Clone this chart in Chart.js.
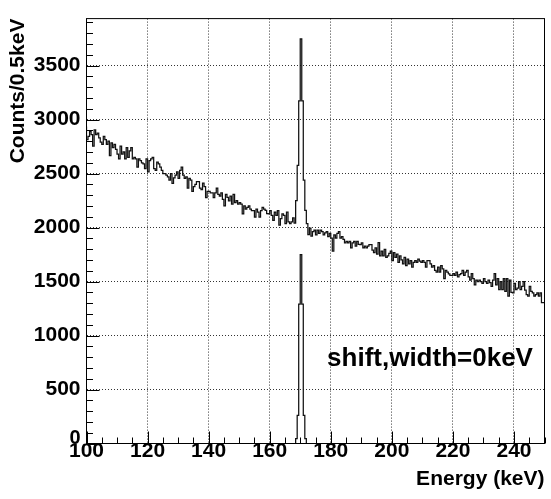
<!DOCTYPE html>
<html>
<head>
<meta charset="utf-8">
<script src="https://cdn.jsdelivr.net/npm/chart.js@4.4.1/dist/chart.umd.min.js"></script>
<style>
  html, body { margin: 0; padding: 0; background: #fff; }
  #wrap { width: 551px; height: 499px; }
</style>
</head>
<body>
<div id="wrap"><canvas id="plot" width="551" height="499"></canvas></div>
<script>
// histogram binning: 100..250 keV, 0.5 keV per bin
const binLow = 100;
const binWidth = 0.5;

// measured spectrum (background + line), counts per bin, 20 bins per 10 keV
const b100 = [2935, 2815, 2845, 2890, 2860, 2755, 2905, 2860, 2875, 2830, 2790, 2770, 2845, 2815, 2770, 2800, 2665, 2785, 2740, 2770];
const b110 = [2725, 2680, 2635, 2755, 2680, 2700, 2635, 2740, 2650, 2710, 2740, 2635, 2650, 2635, 2560, 2635, 2620, 2600, 2590, 2545];
const b120 = [2635, 2515, 2620, 2635, 2650, 2545, 2530, 2605, 2590, 2560, 2530, 2500, 2500, 2485, 2470, 2440, 2500, 2410, 2460, 2485];
const b130 = [2515, 2455, 2530, 2560, 2485, 2455, 2470, 2365, 2455, 2440, 2335, 2380, 2400, 2425, 2426, 2366, 2351, 2411, 2380, 2276];
const b140 = [2336, 2336, 2321, 2321, 2276, 2321, 2366, 2306, 2291, 2321, 2261, 2201, 2306, 2280, 2246, 2291, 2216, 2306, 2231, 2250];
const b150 = [2216, 2231, 2216, 2127, 2201, 2171, 2186, 2201, 2171, 2157, 2157, 2097, 2171, 2142, 2097, 2157, 2186, 2171, 2160, 2130];
const b160 = [2127, 2157, 2112, 2067, 2142, 2112, 2157, 2022, 2082, 2127, 2112, 2037, 2142, 2052, 2037, 2052, 2090, 2040, 2250, 2575];
const b170 = [3173, 3748, 3173, 2440, 2159, 2036, 1935, 1995, 1920, 1962, 1977, 1932, 1977, 1947, 1977, 1962, 1932, 1950, 1962, 1917];
const b180 = [1947, 1902, 1782, 1932, 1902, 1947, 1962, 1902, 1917, 1890, 1857, 1872, 1857, 1872, 1812, 1857, 1872, 1827, 1872, 1845];
const b190 = [1842, 1857, 1812, 1827, 1812, 1827, 1842, 1842, 1790, 1768, 1812, 1753, 1860, 1738, 1782, 1738, 1797, 1723, 1738, 1760];
const b200 = [1782, 1693, 1768, 1723, 1753, 1678, 1738, 1700, 1663, 1723, 1648, 1708, 1663, 1693, 1633, 1678, 1693, 1678, 1708, 1690];
const b210 = [1678, 1693, 1678, 1633, 1693, 1693, 1663, 1633, 1648, 1603, 1588, 1633, 1588, 1648, 1618, 1528, 1603, 1588, 1570, 1558];
const b220 = [1558, 1573, 1558, 1588, 1543, 1565, 1573, 1603, 1558, 1588, 1603, 1543, 1513, 1573, 1528, 1468, 1513, 1498, 1513, 1500];
const b230 = [1483, 1528, 1498, 1483, 1513, 1490, 1454, 1513, 1573, 1468, 1528, 1424, 1498, 1424, 1528, 1409, 1528, 1364, 1513, 1400];
const b240 = [1394, 1483, 1424, 1439, 1498, 1424, 1454, 1498, 1420, 1379, 1364, 1454, 1409, 1394, 1364, 1379, 1394, 1364, 1394, 1304];

// line only (no shift, no extra width): non-zero bins starting at 169.0 keV
const lineStart = 169.0;
const lineCounts = [45, 260, 1290, 1750, 1290, 260, 45];

// axis ticks
const xTicks = [100, 120, 140, 160, 180, 200, 220, 240];
const yTicks = [0, 500, 1000, 1500, 2000, 2500, 3000, 3500];
const xMax = 250;
const yMax = 3935;

const spectrum = [].concat(b100, b110, b120, b130, b140, b150, b160, b170,
                           b180, b190, b200, b210, b220, b230, b240);
const nBins = spectrum.length;
const lineOnly = new Array(nBins).fill(0);
const firstLineBin = Math.round((lineStart - binLow) / binWidth);
lineCounts.forEach((v, i) => { lineOnly[firstLineBin + i] = v; });

// step outline: one point per bin low edge, plus the closing edge
function steps(vals) {
  const pts = vals.map((v, i) => ({x: binLow + i * binWidth, y: v}));
  pts.push({x: binLow + vals.length * binWidth, y: vals[vals.length - 1]});
  return pts;
}

const FONT = "'Liberation Sans', Arial, Helvetica, sans-serif";

const rootFrame = {
  id: 'rootFrame',
  afterDatasetsDraw(chart) {
    const {ctx, chartArea: a, scales: {x, y}} = chart;
    ctx.save();
    ctx.strokeStyle = '#000';
    ctx.lineWidth = 1;
    ctx.beginPath();
    // x ticks inside the frame: major every 20, minor every 5
    for (let v = binLow; v <= xMax; v += 5) {
      const px = Math.round(x.getPixelForValue(v)) + 0.5;
      const len = (v % 20 === 0) ? 12 : 6;
      ctx.moveTo(px, a.bottom);
      ctx.lineTo(px, a.bottom - len);
    }
    // y ticks: major every 500, minor every 100
    for (let v = 0; v <= yMax; v += 100) {
      const py = Math.round(y.getPixelForValue(v)) + 0.5;
      const len = (v % 500 === 0) ? 13 : 6.5;
      ctx.moveTo(a.left, py);
      ctx.lineTo(a.left + len, py);
    }
    ctx.stroke();
    ctx.strokeRect(a.left, a.top, a.right - a.left, a.bottom - a.top);

    // zero label on y sits just above the x labels
    ctx.fillStyle = '#000';
    ctx.font = 'bold 20px ' + FONT;
    ctx.textAlign = 'right';
    ctx.textBaseline = 'middle';
    ctx.fillText('0', a.left - 6, a.bottom - 5);

    ctx.font = 'bold 26px ' + FONT;
    ctx.textAlign = 'center';
    ctx.textBaseline = 'alphabetic';
    ctx.fillText('shift,width=0keV', 430, 366);
    ctx.restore();
  }
};

new Chart(document.getElementById('plot'), {
  type: 'line',
  data: {
    datasets: [
      {
        data: steps(spectrum),
        stepped: 'after',
        borderColor: '#111',
        borderWidth: 1.25,
        pointRadius: 0,
        fill: false
      },
      {
        data: steps(lineOnly),
        stepped: 'after',
        borderColor: '#111',
        borderWidth: 1.25,
        pointRadius: 0,
        fill: false
      }
    ]
  },
  options: {
    responsive: false,
    animation: false,
    devicePixelRatio: 1,
    layout: {padding: {left: 0, right: 6.5, top: 5.5, bottom: 0}},
    plugins: {legend: {display: false}, tooltip: {enabled: false}},
    scales: {
      x: {
        type: 'linear',
        min: binLow,
        max: xMax,
        afterFit(s) { s.height = 55.5; },
        afterBuildTicks(s) { s.ticks = xTicks.map(v => ({value: v})); },
        grid: {color: '#333', drawTicks: false},
        border: {display: false, dash: [1, 2]},
        ticks: {
          includeBounds: false,
          padding: -5,
          color: '#000',
          font: {family: FONT, size: 21, weight: 'bold'},
          callback: v => String(v)
        },
        title: {
          display: true,
          text: 'Energy (keV)',
          align: 'end',
          color: '#000',
          padding: {top: 0, bottom: 7},
          font: {family: FONT, size: 21, weight: 'bold'}
        }
      },
      y: {
        type: 'linear',
        min: 0,
        max: yMax,
        afterFit(s) { s.width = 86.5; },
        afterBuildTicks(s) { s.ticks = yTicks.map(v => ({value: v})); },
        grid: {color: '#333', drawTicks: false},
        border: {display: false, dash: [1, 2]},
        ticks: {
          includeBounds: false,
          padding: 6,
          color: '#000',
          font: {family: FONT, size: 21, weight: 'bold'},
          callback: v => (v === 0 ? '' : String(v))
        },
        title: {
          display: true,
          text: 'Counts/0.5keV',
          align: 'end',
          color: '#000',
          padding: {top: 6, bottom: 0},
          font: {family: FONT, size: 21, weight: 'bold'}
        }
      }
    }
  },
  plugins: [rootFrame]
});
</script>
</body>
</html>
